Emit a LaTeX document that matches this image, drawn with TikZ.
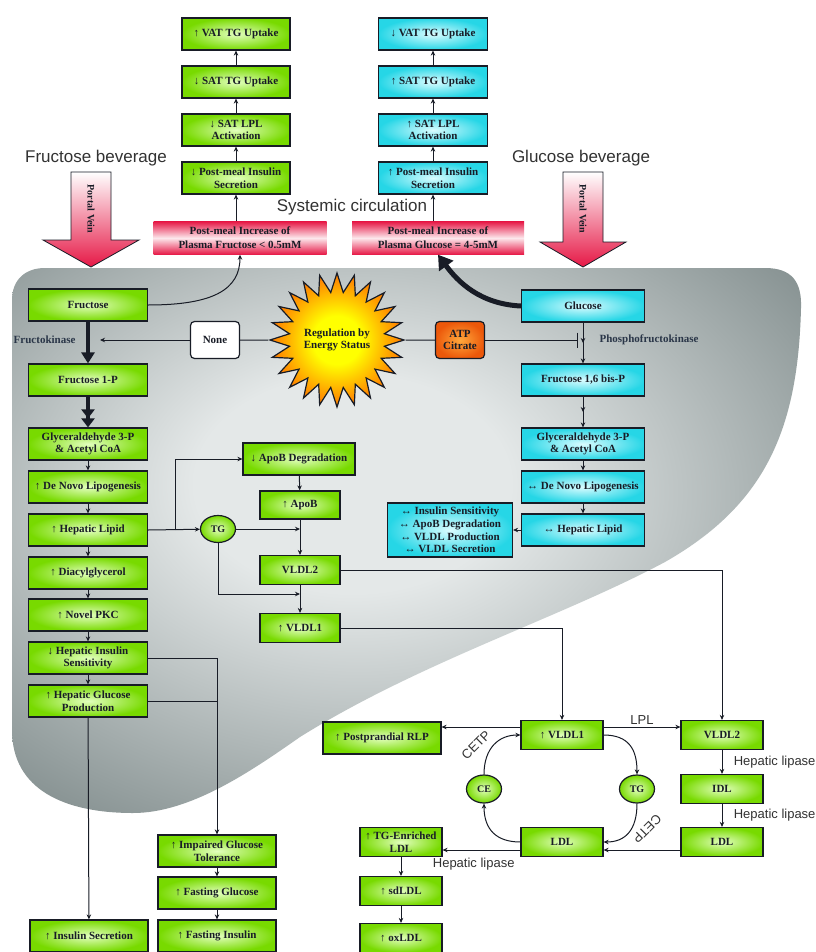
\documentclass[tikz,border=0pt]{standalone}
\usepackage{fontspec}
\setmainfont{Liberation Serif}
\setsansfont{Liberation Sans}
\usepackage{tikz}
\usetikzlibrary{arrows.meta, shapes.geometric, decorations.markings}
\definecolor{cgreen}   {RGB}{120,218,0}
\definecolor{cgreenlt} {RGB}{226,255,190}
\definecolor{ccyan}    {RGB}{38,214,230}
\definecolor{ccyanlt}  {RGB}{218,252,255}
\definecolor{cpink}    {RGB}{230,24,70}
\definecolor{corange}  {RGB}{236,88,10}
\definecolor{corangelt}{RGB}{255,168,60}
\definecolor{cliverdk} {RGB}{98,112,112}
\definecolor{cliverlt} {RGB}{228,232,232}
\definecolor{ctext}    {RGB}{24,28,38}
\definecolor{clabel}   {RGB}{50,50,50}
\definecolor{cenz}     {RGB}{42,54,72}
\pgfdeclareradialshading{burst}{\pgfpoint{0bp}{0bp}}{%
  color(0bp)=(yellow); color(9bp)=(yellow);
  color(24bp)=(orange); color(50bp)=(red!80!orange)}
\pgfdeclareradialshading{liver}{\pgfpoint{-4bp}{6bp}}{%
  color(0bp)=(cliverlt); color(10bp)=(cliverlt);
  color(44bp)=(cliverdk); color(75bp)=(cliverdk)}
\tikzset{
  bb/.style={rectangle, draw=ctext, line width=1.2pt, text=ctext,
             font=\bfseries\fontsize{11}{12.5}\selectfont, align=center,
             minimum height=32pt, inner sep=1pt},
  gbox/.style={bb, inner color=cgreenlt, outer color=cgreen, minimum width=#1},
  gbox/.default=119pt,
  cbox/.style={bb, inner color=ccyanlt, outer color=ccyan, minimum width=#1},
  cbox/.default=123pt,
  pbar/.style={rectangle, top color=cpink, bottom color=cpink,
               middle color=white!90!cpink, text=ctext,
               font=\bfseries\fontsize{11}{14}\selectfont, align=center,
               minimum width=173pt, minimum height=33pt},
  oval/.style={ellipse, draw=ctext, line width=1.2pt, text=ctext,
               inner color=cgreenlt, outer color=cgreen,
               font=\bfseries\fontsize{10}{10}\selectfont,
               minimum width=35pt, minimum height=28pt, inner sep=0pt},
  arr/.style={-{Stealth[length=5pt,width=4.5pt]}, line width=1pt, color=ctext},
  midarr/.style={postaction={decorate}, decoration={markings,
                 mark=at position 0.5 with {\arrow{Stealth[length=5pt,width=4.5pt]}}}},
  inh/.style={-{Bar[width=15pt,line width=1.4pt]}, line width=1pt, color=ctext},
  lbl/.style={font=\sffamily\fontsize{13}{13}\selectfont, text=clabel},
  bev/.style={font=\sffamily\fontsize{17}{17}\selectfont, text=clabel},
  enz/.style={font=\bfseries\fontsize{11}{11}\selectfont, text=cenz},
}

\begin{document}
\begin{tikzpicture}[x=1pt, y=-1pt]
  \useasboundingbox (0,0) rectangle (815,952);
  \fill[white] (0,0) rectangle (815,952);

  % ── Liver ──────────────────────────────────────────────────────────────────
  \shade[shading=liver]
    (45,268) -- (765,268) .. controls (792,268) and (802,282) .. (801,308)
    .. controls (798,430) and (765,505) .. (665,562)
    .. controls (560,618) and (420,662) .. (300,737)
    .. controls (250,772) and (190,813) .. (133,813)
    .. controls (65,813) and (12,790) .. (12,730)
    -- (12,300) .. controls (12,280) and (25,268) .. (45,268) -- cycle;

  % ── Beverages and portal vein ──────────────────────────────────────────────
  \node[bev] (fbev) at (96,158)  {Fructose beverage};
  \node[bev] (gbev) at (581,158) {Glucose beverage};
  \node[bev] (circ) at (352,207) {Systemic circulation};
  \shade[top color=white, bottom color=cpink, draw=ctext, line width=0.8pt]
    (71,172) -- (111,172) -- (111,240) -- (139,240) -- (91,267)
    -- (43,240) -- (71,240) -- cycle;
  \shade[top color=white, bottom color=cpink, draw=ctext, line width=0.8pt]
    (563,172) -- (603,172) -- (603,242) -- (626,242) -- (583,267)
    -- (540,242) -- (563,242) -- cycle;
  \node[enz, text=ctext, font=\bfseries\fontsize{10}{10}\selectfont, rotate=-90]
    (pvf) at (91,209) {Portal Vein};
  \node[enz, text=ctext, font=\bfseries\fontsize{10}{10}\selectfont, rotate=-90]
    (pvg) at (583,209) {Portal Vein};

  % ── Adipose response, fructose ─────────────────────────────────────────────
  \node[gbox=108pt] (fvat) at (236,34)  {↑ VAT TG Uptake};
  \node[gbox=108pt] (fsat) at (236,82)  {↓ SAT TG Uptake};
  \node[gbox=108pt] (flpl) at (236,130) {↓ SAT LPL\\Activation};
  \node[gbox=108pt] (fins) at (236,178) {↓ Post-meal Insulin\\Secretion};
  \node[pbar] (fplasma) at (240,238) {Post-meal Increase of\\Plasma Fructose < 0.5mM};

  % ── Adipose response, glucose ──────────────────────────────────────────────
  \node[cbox=109pt] (gvat) at (433,34)  {↓ VAT TG Uptake};
  \node[cbox=109pt] (gsat) at (433,82)  {↑ SAT TG Uptake};
  \node[cbox=109pt] (glpl) at (433,130) {↑ SAT LPL\\Activation};
  \node[cbox=109pt] (gins) at (433,178) {↑ Post-meal Insulin\\Secretion};
  \node[pbar, minimum width=172pt] (gplasma) at (438,238)
    {Post-meal Increase of\\Plasma Glucose = 4-5mM};

  % ── Fructose pathway ───────────────────────────────────────────────────────
  \node[gbox] (fru)   at (88,305) {Fructose};
  \node[gbox] (fru1p) at (88,380) {Fructose 1-P};
  \node[gbox] (fga)   at (88,444) {Glyceraldehyde 3-P\\\& Acetyl CoA};
  \node[gbox] (fdnl)  at (88,487) {↑ De Novo Lipogenesis};
  \node[gbox] (fhl)   at (88,530) {↑ Hepatic Lipid};
  \node[gbox] (fdag)  at (88,573) {↑ Diacylglycerol};
  \node[gbox] (fpkc)  at (88,615) {↑ Novel PKC};
  \node[gbox] (fhis)  at (88,658) {↓ Hepatic Insulin\\Sensitivity};
  \node[gbox] (fhgp)  at (88,701) {↑ Hepatic Glucose\\Production};
  \node[enz, anchor=east] (fkinase) at (79,340) {Fructokinase};

  % ── Regulation ─────────────────────────────────────────────────────────────
  \node[bb, fill=white, rounded corners=4pt, minimum width=49pt,
        minimum height=37pt] (none) at (215,340) {None};
  \node[star, star points=24, star point ratio=1.4, minimum size=134pt,
        draw=ctext, line width=1.2pt, shading=burst, inner sep=0pt,
        text=ctext, font=\bfseries\fontsize{11}{12.5}\selectfont,
        align=center] (star) at (337,340) {Regulation by\\Energy Status};
  \node[bb, inner color=corangelt, outer color=corange, rounded corners=4pt,
        minimum width=49pt, minimum height=37pt] (atp) at (460,340) {ATP\\Citrate};

  % ── Glucose pathway ────────────────────────────────────────────────────────
  \node[cbox] (glu)  at (583,306) {Glucose};
  \node[cbox] (gf16) at (583,380) {Fructose 1,6 bis-P};
  \node[cbox] (gga)  at (583,444) {Glyceraldehyde 3-P\\\& Acetyl CoA};
  \node[cbox] (gdnl) at (583,487) {↔ De Novo Lipogenesis};
  \node[cbox] (ghl)  at (583,530) {↔ Hepatic Lipid};
  \node[cbox=125pt, minimum height=54pt,
        font=\bfseries\fontsize{11}{12.7}\selectfont] (gsum) at (450,530)
    {↔ Insulin Sensitivity\\↔ ApoB Degradation\\↔ VLDL Production\\↔ VLDL Secretion};
  \node[enz, anchor=west] (pfkinase) at (596,340) {Phosphofructokinase};

  % ── ApoB / VLDL assembly ───────────────────────────────────────────────────
  \node[gbox=112pt] (apodeg) at (299,459) {↓ ApoB Degradation};
  \node[gbox=80pt, minimum height=28pt] (apob)  at (300,505) {↑ ApoB};
  \node[oval, minimum height=27pt]     (tgl)   at (218,529) {TG};
  \node[gbox=80pt, minimum height=29pt] (vldl2a) at (300,570) {VLDL2};
  \node[gbox=80pt, minimum height=29pt] (vldl1a) at (300,628) {↑ VLDL1};

  % ── Lipoprotein metabolism ─────────────────────────────────────────────────
  \node[gbox=118pt] (rlp) at (382,738) {↑ Postprandial RLP};
  \node[gbox=82pt, minimum height=29pt] (vldl1b) at (562,735) {↑ VLDL1};
  \node[gbox=82pt, minimum height=29pt] (vldl2b) at (722,735) {VLDL2};
  \node[oval] (ce)  at (484,789) {CE};
  \node[oval] (tgr) at (637,789) {TG};
  \node[gbox=82pt, minimum height=29pt] (idl)   at (722,789) {IDL};
  \node[gbox=82pt, minimum height=29pt] (ldlm)  at (562,842) {LDL};
  \node[gbox=82pt, minimum height=29pt] (ldlr)  at (722,842) {LDL};
  \node[gbox=82pt, minimum height=29pt] (tgldl) at (401,842) {↑ TG-Enriched\\LDL};
  \node[gbox=82pt, minimum height=29pt] (sdldl) at (401,891) {↑ sdLDL};
  \node[gbox=82pt, minimum height=29pt] (oxldl) at (401,938) {↑ oxLDL};
  \node[lbl, rotate=45, inner sep=0pt]   (cetpa) at (476,745) {CETP};
  \node[lbl, rotate=-135, inner sep=0pt] (cetpb) at (647,829) {CETP};

  % ── Glucose homeostasis ────────────────────────────────────────────────────
  \node[gbox=118pt] (igt)   at (217,851) {↑ Impaired Glucose\\Tolerance};
  \node[gbox=118pt] (fglu)  at (217,893) {↑ Fasting Glucose};
  \node[gbox=118pt] (finsl) at (217,936) {↑ Fasting Insulin};
  \node[gbox=118pt] (isec)  at (89,936)  {↑ Insulin Secretion};

  % ── Coordinates ────────────────────────────────────────────────────────────
  \coordinate (fkin)    at (100,340);
  \coordinate (pfkin)   at (578,340);
  \coordinate (hlsplit) at (175,530);
  \coordinate (tgjoin)  at (300,594);

  % ── Arrows ─────────────────────────────────────────────────────────────────
  \draw[arr] (fplasma.north -| fins) -- (fins);
  \draw[arr] (fins) -- (flpl);
  \draw[arr] (flpl) -- (fsat);
  \draw[arr] (fsat) -- (fvat);
  \draw[arr] (gplasma.north -| gins) -- (gins);
  \draw[arr] (gins) -- (glpl);
  \draw[arr] (glpl) -- (gsat);
  \draw[arr] (gsat) -- (gvat);
  \draw[arr] (fru.east) .. controls +(65,0) and +(0,35) .. (fplasma.south);
  \draw[line width=5pt, color=ctext, -{Triangle[length=14pt,width=17pt]}]
    (glu.west) .. controls (480,304) and (458,282) .. (gplasma.south);

  \draw[line width=3.5pt, color=ctext, -{Triangle[length=11pt,width=13pt]}]
    (fru) -- (fru1p);
  \draw[line width=3.5pt, color=ctext,
        -{Triangle[length=9pt,width=13pt] Triangle[length=9pt,width=13pt]}]
    (fru1p) -- (fga);
  \draw[arr] (fga)  -- (fdnl);
  \draw[arr] (fdnl) -- (fhl);
  \draw[arr] (fhl)  -- (fdag);
  \draw[arr] (fdag) -- (fpkc);
  \draw[arr] (fpkc) -- (fhis);
  \draw[arr] (fhis) -- (fhgp);

  \draw[arr] (none) -- (fkin);
  \draw[line width=1pt, color=ctext] (none) -- (star);
  \draw[line width=1pt, color=ctext] (star) -- (atp);
  \draw[inh] (atp) -- (pfkin);

  \draw[arr, midarr] (glu)  -- (gf16);
  \draw[arr, midarr] (gf16) -- (gga);
  \draw[arr] (gga)  -- (gdnl);
  \draw[arr] (gdnl) -- (ghl);
  \draw[arr] (ghl)  -- (gsum);

  \draw[arr] (fhl.east) -- (tgl);
  \draw[arr] (hlsplit) |- (apodeg.west);
  \draw[arr] (apodeg) -- (apob);
  \draw[arr] (apob) -- (vldl2a);
  \draw[arr] (tgl.east) -- (tgl.east -| apob.south);
  \draw[arr] (tgl.south) |- (tgjoin);
  \draw[arr] (vldl2a) -- (vldl1a);
  \draw[arr] (vldl2a.east) -| (vldl2b.north);
  \draw[arr] (vldl1a.east) -| (vldl1b.north);

  \draw[arr] ([yshift=8pt]vldl1b.west) -- ([yshift=8pt]vldl1b.west -| rlp.east);
  \draw[arr] ([yshift=8pt]vldl1b.east)
    -- node[lbl, above=-1pt] {LPL} ([yshift=8pt]vldl1b.east -| vldl2b.west);
  \draw[arr] (vldl2b) -- node[lbl, right=8pt] {Hepatic lipase} (idl);
  \draw[arr] (idl) -- node[lbl, right=8pt] {Hepatic lipase} (ldlr);
  \draw[arr] ([yshift=-8pt]ldlr.west) -- ([yshift=-8pt]ldlr.west -| ldlm.east);
  \draw[arr] ([yshift=-8pt]ldlm.west)
    -- node[lbl, below=4pt, pos=0.6] {Hepatic lipase} ([yshift=-8pt]ldlm.west -| tgldl.east);
  \draw[arr] (tgldl) -- (sdldl);
  \draw[arr] (sdldl) -- (oxldl);
  \draw[arr] (vldl1b.east) .. controls +(26,0) and +(0,-24) .. (tgr.north);
  \draw[arr] (tgr.south) .. controls +(0,26) and +(22,0) .. (ldlm.east);
  \draw[arr] (ldlm.west) .. controls +(-24,0) and +(0,26) .. (ce.south);
  \draw[arr] (ce.north) .. controls +(0,-26) and +(-22,0) .. (vldl1b.west);

  \draw[arr] (fhis.east) -| (igt.north);
  \draw[line width=1pt, color=ctext] (fhgp.east) -- (fhgp.east -| igt.north);
  \draw[arr] (igt)  -- (fglu);
  \draw[arr] (fglu) -- (finsl);
  \draw[arr] (fhgp) -- (isec);
\end{tikzpicture}
\end{document}
